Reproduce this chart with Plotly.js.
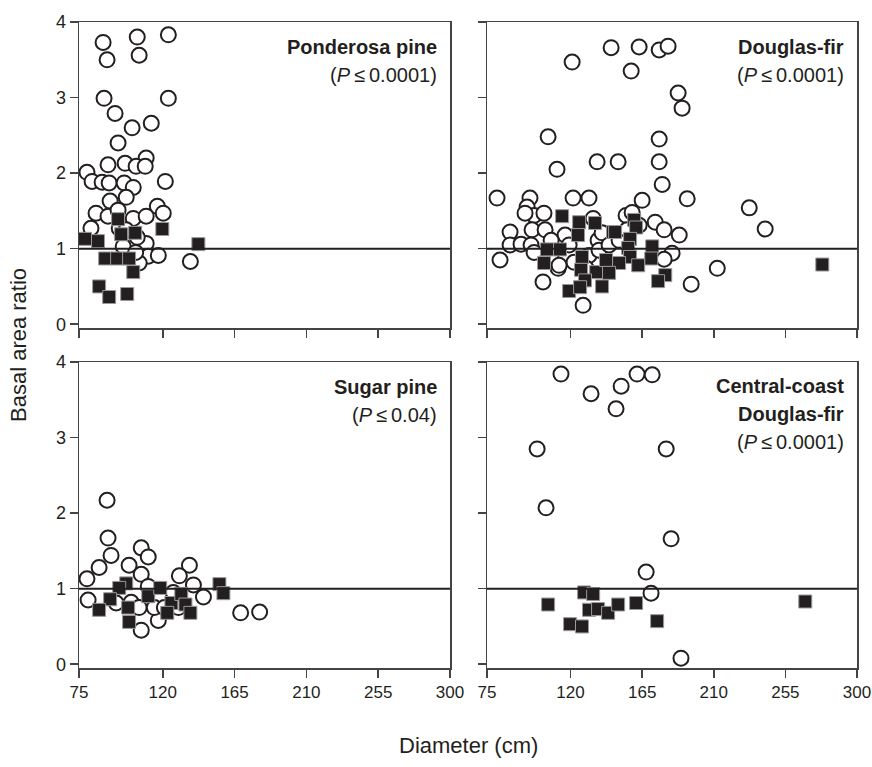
<!DOCTYPE html>
<html>
<head>
<meta charset="utf-8">
<script src="https://cdn.plot.ly/plotly-3.0.1.min.js"></script>
<style>html,body{margin:0;padding:0;background:#fff;}#chart{width:872px;height:767px;}</style>
</head>
<body>
<div id="chart"></div>
<script>
// ---- Data (diameter in cm, basal area ratio) ----
const DIAM_TICKS = [67.5, 120, 165, 210, 255, 300];
const DIAM_TICK_TEXT = ['75', '120', '165', '210', '255', '300'];
const RATIO_TICKS = [0, 1, 2, 3, 4];
const REF_RATIO = 1;

const ponderosaOpenX = [82.6,85.1,104,105.2,123.5,83.2,123.5,90.1,112.8,100.8,92,109.6,72.5,85.7,96.4,103.3,109,75.7,82,86.4,95.8,101.5,121.6,97.1,87,116.6,120.3,78.2,85.7,92,101.5,109.6,75,92.7,109.6,100.8,95.2,110.9,117.2,105.2,137.3,97,104,103];
const ponderosaOpenY = [3.73,3.50,3.80,3.56,3.83,2.99,2.99,2.79,2.66,2.60,2.40,2.20,2.01,2.11,2.13,2.09,2.09,1.89,1.88,1.87,1.87,1.81,1.89,1.68,1.63,1.56,1.47,1.47,1.43,1.51,1.40,1.43,1.27,1.27,1.07,1.07,1.03,0.90,0.91,0.81,0.83,1.25,1.15,0.95];
const ponderosaFilledX = [71.3,79.4,92,93.9,102.7,119.7,142.3,83.9,91.4,98.9,101.5,80.1,86.4,97.7];
const ponderosaFilledY = [1.13,1.10,1.39,1.19,1.21,1.26,1.06,0.87,0.87,0.87,0.69,0.50,0.36,0.40];

const douglasOpenX = [73.8,121,145.5,163.1,175.7,181.3,158.1,187.6,190.1,105.9,175.7,111.5,136.7,149.9,175.7,177.6,193.3,232.3,242.3,188.3,212.2,195.8,
  94.5,92.7,97.1,103.3,91.4,82,95.8,104,82,88.9,95.2,75.7,121.6,131.6,116.6,134.2,137.3,102.7,127.9,112.2,165,154.9,158.7,173.2,178.8,145.5,183.8,178.8,139.8,97.1,107.8,112.8,122.2,131.6,137.9,144.2,150.5,155.5,163.1,107.8,119.1,129.8];
const douglasOpenY = [1.67,3.47,3.66,3.67,3.63,3.68,3.35,3.06,2.86,2.48,2.45,2.05,2.15,2.15,2.15,1.85,1.66,1.54,1.26,1.18,0.74,0.53,
  1.67,1.55,1.44,1.47,1.47,1.22,1.25,1.25,1.05,1.06,1.05,0.85,1.67,1.67,1.18,1.40,1.11,0.56,0.25,0.74,1.64,1.44,1.48,1.35,1.25,1.14,0.94,0.86,1.21,0.95,0.87,0.78,0.82,0.91,0.98,1.05,1.11,1.25,1.31,1.11,1.05,0.74];
const douglasFilledX = [114.7,125.4,135.4,124.7,146.7,105.2,113.4,103.3,127.2,126.6,136.1,142.3,129.1,139.8,119.1,126,160,161.2,148,157.4,156.2,171.3,170.7,157.4,150.5,162.5,144.2,179.5,175,278.2];
const douglasFilledY = [1.43,1.35,1.34,1.18,1.22,0.99,0.99,0.81,0.89,0.72,0.69,0.85,0.58,0.50,0.44,0.49,1.38,1.28,1.22,1.13,1.01,1.03,0.87,0.89,0.81,0.78,0.68,0.65,0.57,0.79];

const sugarOpenX = [85.1,85.7,87.6,80.1,72.5,73.2,106.5,110.9,98.9,106.5,136.7,130.4,139.2,145.5,110.9,106.5,117.2,168.8,180.7,90.8,100.2,105.2,114.7,121,129.8,126.6];
const sugarOpenY = [2.17,1.67,1.44,1.28,1.13,0.85,1.54,1.42,1.31,1.19,1.31,1.17,1.05,0.89,1.03,0.45,0.58,0.68,0.69,0.81,0.82,0.75,0.75,0.75,0.75,0.95];
const sugarFilledX = [97.1,92.7,87,80.1,98.3,98.9,110.9,118.4,125.4,122.8,131.6,134.2,137.3,155.5,158];
const sugarFilledY = [1.07,1.01,0.86,0.72,0.75,0.56,0.90,1.01,0.81,0.68,0.93,0.79,0.68,1.06,0.94];

const coastOpenX = [114,132.9,151.8,148.6,161.8,171.3,99,180.1,104.6,183.2,167.5,170.6,189.4];
const coastOpenY = [3.84,3.58,3.68,3.38,3.84,3.83,2.85,2.85,2.07,1.66,1.22,0.94,0.08];
const coastFilledX = [105.9,128.5,134.2,131.6,137.3,143.6,149.9,161.2,119.7,127.2,174.4,267.5];
const coastFilledY = [0.79,0.95,0.93,0.72,0.73,0.68,0.79,0.81,0.53,0.50,0.57,0.83];

const panelNames = [['Ponderosa pine'], ['Douglas-fir'], ['Sugar pine'], ['Central-coast', 'Douglas-fir']];
const panelP = ['0.0001', '0.0001', '0.04', '0.0001'];

// ---- Build ----
const FONT = 'Liberation Sans, Arial, Helvetica, sans-serif';
const INK = '#231f20';
const sets = [
  [ponderosaOpenX, ponderosaOpenY, ponderosaFilledX, ponderosaFilledY],
  [douglasOpenX, douglasOpenY, douglasFilledX, douglasFilledY],
  [sugarOpenX, sugarOpenY, sugarFilledX, sugarFilledY],
  [coastOpenX, coastOpenY, coastFilledX, coastFilledY]
];
const traces = [];
sets.forEach((s, i) => {
  const sfx = i === 0 ? '' : String(i + 1);
  traces.push({x: s[0], y: s[1], xaxis: 'x' + sfx, yaxis: 'y' + sfx, type: 'scatter', mode: 'markers',
    marker: {symbol: 'circle', size: 15, color: '#ffffff', line: {color: INK, width: 2}}, showlegend: false, hoverinfo: 'skip'});
  traces.push({x: s[2], y: s[3], xaxis: 'x' + sfx, yaxis: 'y' + sfx, type: 'scatter', mode: 'markers',
    marker: {symbol: 'square', size: 13, color: INK, line: {color: '#9a9a9a', width: 1}}, showlegend: false, hoverinfo: 'skip'});
});

const W = 872, H = 767;
const colDom = [[79 / W, 450 / W], [487 / W, 857 / W]];
const rowDom = [[1 - 328 / H, 1 - 22 / H], [1 - 668 / H, 1 - 362 / H]];

const layout = {
  width: W, height: H,
  margin: {l: 0, r: 0, t: 0, b: 0},
  paper_bgcolor: '#ffffff', plot_bgcolor: '#ffffff',
  font: {family: FONT, color: INK, size: 17},
  shapes: [], annotations: []
};
for (let i = 0; i < 4; i++) {
  const sfx = i === 0 ? '' : String(i + 1);
  const col = i % 2, row = Math.floor(i / 2);
  layout['xaxis' + sfx] = {
    domain: colDom[col], anchor: 'y' + sfx, range: [67.5, 300],
    tickvals: DIAM_TICKS, ticktext: DIAM_TICK_TEXT, showticklabels: row === 1,
    ticklabeloverflow: 'allow',
    ticks: 'outside', ticklen: 8, tickwidth: 1.5, tickcolor: '#444',
    showline: true, mirror: true, linecolor: '#444', linewidth: 1.5,
    showgrid: false, zeroline: false, tickfont: {size: 17, family: FONT, color: INK}
  };
  layout['yaxis' + sfx] = {
    domain: rowDom[row], anchor: 'x' + sfx, range: [-0.05, 4],
    tickvals: RATIO_TICKS, showticklabels: col === 0,
    ticks: 'outside', ticklen: 8, tickwidth: 1.5, tickcolor: '#444',
    showline: true, mirror: true, linecolor: '#444', linewidth: 1.5,
    showgrid: false, zeroline: false, tickfont: {size: 18, family: FONT, color: INK}
  };
  layout.shapes.push({type: 'line', xref: 'x' + sfx + ' domain', yref: 'y' + sfx,
    x0: 0, x1: 1, y0: REF_RATIO, y1: REF_RATIO, line: {color: INK, width: 2}});
  const lines = panelNames[i].map(n => '<b>' + n + '</b>');
  lines.push('(<i>P</i>\u2009\u2264\u2009' + panelP[i] + ')');
  const yStart = lines.length === 3 ? 0.922 : 0.918;
  lines.forEach((t, k) => {
    layout.annotations.push({xref: 'x' + sfx + ' domain', yref: 'y' + sfx + ' domain',
      x: 0.97, y: yStart - k * 0.091, xanchor: 'right', yanchor: 'middle',
      text: t, showarrow: false, font: {size: 20, family: FONT, color: INK}});
  });
}
layout.annotations.push({xref: 'paper', yref: 'paper', x: 468 / W, y: 1 - 745 / H,
  xanchor: 'center', yanchor: 'middle', text: 'Diameter (cm)', showarrow: false,
  font: {size: 22, family: FONT, color: INK}});
layout.annotations.push({xref: 'paper', yref: 'paper', x: 18 / W, y: 1 - 345 / H,
  xanchor: 'center', yanchor: 'middle', text: 'Basal area ratio', textangle: -90, showarrow: false,
  font: {size: 22, family: FONT, color: INK}});

Plotly.newPlot('chart', traces, layout, {displayModeBar: false, staticPlot: true});
</script>
</body>
</html>
